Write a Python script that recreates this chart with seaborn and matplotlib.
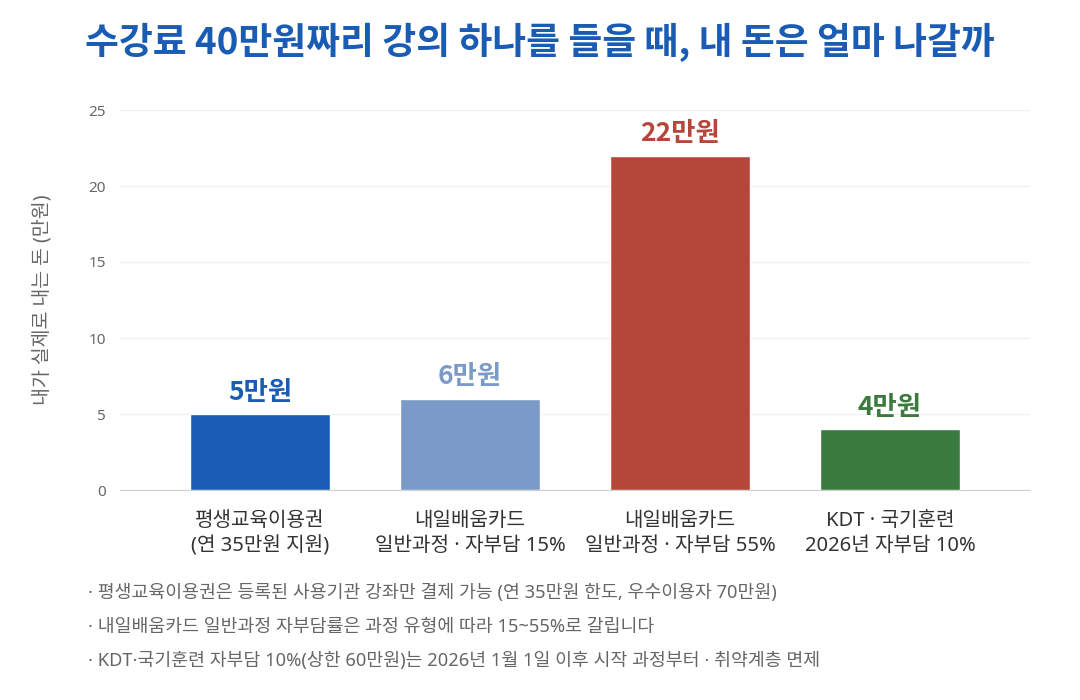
import pandas as pd
import seaborn as sns
import matplotlib.pyplot as plt

categories = ['평생교육이용권\n(연 35만원 지원)', '내일배움카드\n일반과정 · 자부담 15%',
              '내일배움카드\n일반과정 · 자부담 55%', 'KDT · 국기훈련\n2026년 자부담 10%']
values = [5, 6, 22, 4]
labels = ['5만원', '6만원', '22만원', '4만원']
colors = ['#1a5cb4', '#7a9bc8', '#b5473a', '#3b7a3e']
notes = ['· 평생교육이용권은 등록된 사용기관 강좌만 결제 가능 (연 35만원 한도, 우수이용자 70만원)',
         '· 내일배움카드 일반과정 자부담률은 과정 유형에 따라 15~55%로 갈립니다',
         '· KDT·국기훈련 자부담 10%(상한 60만원)는 2026년 1월 1일 이후 시작 과정부터 · 취약계층 면제']

df = pd.DataFrame({'cat': categories, 'val': values})

sns.set_style('white')
plt.rcParams['font.family'] = ['Noto Sans', 'Noto Sans CJK KR', 'DejaVu Sans']
bold_family = ['Noto Sans CJK KR', 'DejaVu Sans']

fig = plt.figure(figsize=(10.8, 7), dpi=100)
ax = fig.add_axes([120 / 1080, 1 - 490 / 700, 910 / 1080, 380 / 700])

sns.barplot(data=df, x='cat', y='val', hue='cat', palette=colors, legend=False,
            width=0.667, saturation=1, ax=ax, zorder=3)

# value labels above bars
for i, (v, lab) in enumerate(zip(values, labels)):
    ax.text(i, v + 0.55, lab, ha='center', va='bottom', fontsize=19,
            fontweight='bold', color=colors[i], family=bold_family)

ax.set_xlim(-0.667, 3.667)
ax.set_ylim(0, 25)
ax.set_yticks([0, 5, 10, 15, 20, 25])
ax.grid(axis='y', color='#f0f0f0', linewidth=1, zorder=0)
ax.set_xlabel('')
ax.set_ylabel('내가 실제로 내는 돈 (만원)', fontsize=14, color='#666666', labelpad=26)
ax.tick_params(axis='y', labelsize=11, labelcolor='#666666', length=0, pad=10)
ax.tick_params(axis='x', labelsize=14.5, labelcolor='#333333', length=0, pad=15)
for t in ax.get_xticklabels():
    t.set_linespacing(1.35)
for s in ['top', 'right', 'left']:
    ax.spines[s].set_visible(False)
ax.spines['bottom'].set_color('#d0d0d0')

fig.text(0.5, 1 - 42 / 700, '수강료 40만원짜리 강의 하나를 들을 때, 내 돈은 얼마 나갈까',
         ha='center', va='center', fontsize=26.5, fontweight='bold', color='#1a5cb4',
         family=bold_family)

for j, note in enumerate(notes):
    fig.text(88 / 1080, 1 - (593 + 34 * j) / 700, note, ha='left', va='center',
             fontsize=13.2, color='#666666')

fig.savefig('out.png', dpi=100)
